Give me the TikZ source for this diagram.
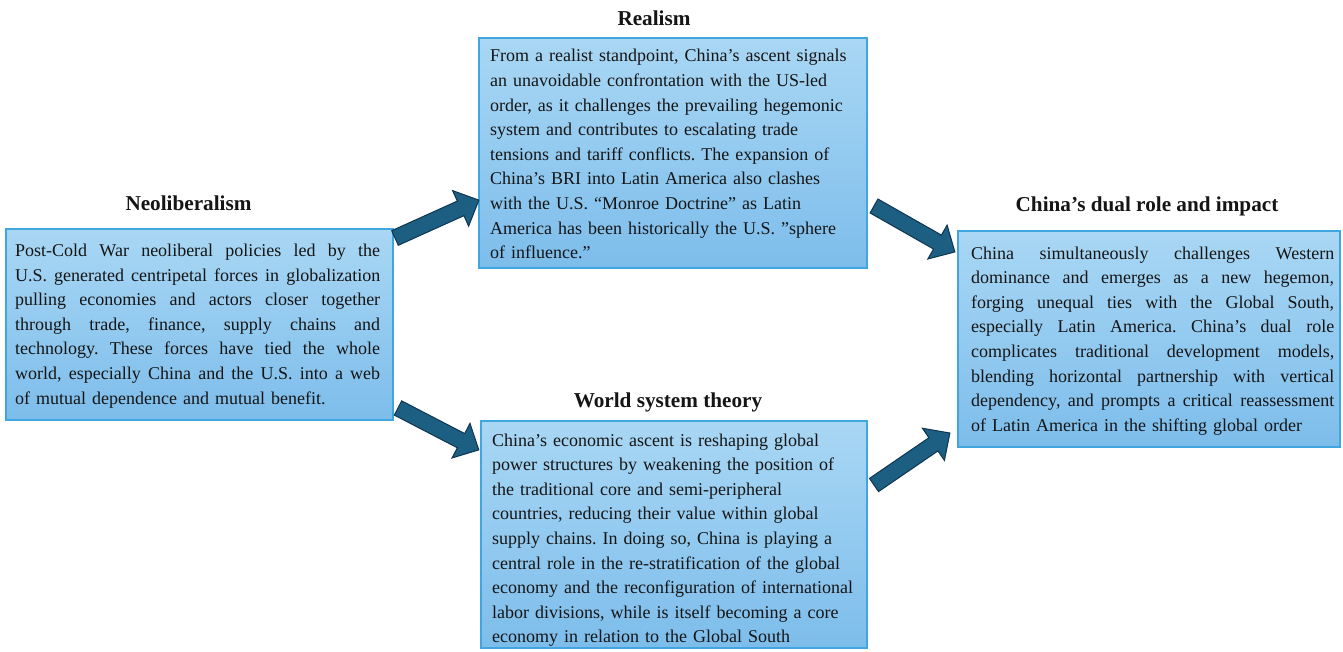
\documentclass[tikz,border=0pt]{standalone}
\usepackage{fontspec}
\setmainfont{Liberation Serif}
\setlength\parindent{0pt}
\frenchspacing
\definecolor{boxtop}{HTML}{A9D7F4}
\definecolor{boxbot}{HTML}{7DBDEB}
\definecolor{boxline}{HTML}{3FA6DF}
\definecolor{arrfill}{HTML}{1C5F82}
\definecolor{arrline}{HTML}{0E3550}
\definecolor{ink}{HTML}{151515}
\newdimen\jw
\newcommand{\jl}[1]{\leavevmode\hbox to \jw{\spaceskip=\fontdimen2\font plus 1fil minus 1pt\relax #1}}
\tikzset{
  panel/.style={draw=boxline, line width=1.6pt, top color=boxtop, bottom color=boxbot},
  body/.style={anchor=base west, inner sep=0pt, align=left, text=ink,
    font=\fontsize{18}{24.6}\selectfont},
  heading/.style={anchor=base, inner sep=0pt, text=ink,
    font=\fontsize{21.2}{24}\selectfont\bfseries},
  blockarrow/.style={fill=arrfill, draw=arrline, line width=1pt, line join=miter}
}
\newcommand{\blockarr}[3]{% tail coordinate, angle, length
  \begin{scope}[shift={(#1)}, rotate=#2, x=1pt, y=1pt]
    \path[blockarrow] (0,-8) -- (#3-20,-8) -- (#3-20,-19.5) -- (#3,0)
      -- (#3-20,19.5) -- (#3-20,8) -- (0,8) -- cycle;
  \end{scope}}
\begin{document}
\begin{tikzpicture}[x=1pt, y=-1pt]
\useasboundingbox (0,0) rectangle (1343,652);

% boxes
\draw[panel] (6,229) rectangle (393,420);
\draw[panel] (479,38) rectangle (867,268);
\draw[panel] (481,421) rectangle (867,648);
\draw[panel] (958,231) rectangle (1340,447);

% headings
\node[heading] (hneo) at (188.5,211) {Neoliberalism};
\node[heading] (hreal) at (654,26) {Realism};
\node[heading] (hworld) at (668,407) {World system theory};
\node[heading] (hchina) at (1147,212) {China’s dual role and impact};

% texts
\jw=365pt
\node[body, text width=420pt] (tneo) at (15,256.5) {%
\jl{Post-Cold War neoliberal policies led by the}\\
\jl{U.S. generated centripetal forces in globalization}\\
\jl{pulling economies and actors closer together}\\
\jl{through trade, finance, supply chains and}\\
\jl{technology. These forces have tied the whole}\\
\jl{world, especially China and the U.S. into a web}\\
of mutual dependence and mutual benefit.};

\node[body, text width=420pt] (treal) at (490,62) {%
From a realist standpoint, China’s ascent signals\\
an unavoidable confrontation with the US-led\\
order, as it challenges the prevailing hegemonic\\
system and contributes to escalating trade\\
tensions and tariff conflicts. The expansion of\\
China’s BRI into Latin America also clashes\\
with the U.S. “Monroe Doctrine” as Latin\\
America has been historically the U.S. ”sphere\\
of influence.”};

\node[body, text width=420pt] (tworld) at (492,446) {%
China’s economic ascent is reshaping global\\
power structures by weakening the position of\\
the traditional core and semi-peripheral\\
countries, reducing their value within global\\
supply chains. In doing so, China is playing a\\
central role in the re-stratification of the global\\
economy and the reconfiguration of international\\
labor divisions, while is itself becoming a core\\
economy in relation to the Global South};

\jw=363pt
\node[body, text width=420pt] (tchina) at (971,259) {%
\jl{China simultaneously challenges Western}\\
\jl{dominance and emerges as a new hegemon,}\\
\jl{forging unequal ties with the Global South,}\\
\jl{especially Latin America. China’s dual role}\\
\jl{complicates traditional development models,}\\
\jl{blending horizontal partnership with vertical}\\
\jl{dependency, and prompts a critical reassessment}\\
of Latin America in the shifting global order};

% arrows
\coordinate (a1) at (395,238);
\coordinate (a2) at (398,408);
\coordinate (a3) at (874,206);
\coordinate (a4) at (874,485);
\blockarr{a1}{24.3}{92}
\blockarr{a2}{-27.4}{91}
\blockarr{a3}{-29.6}{93}
\blockarr{a4}{34.4}{92}
\end{tikzpicture}
\end{document}
